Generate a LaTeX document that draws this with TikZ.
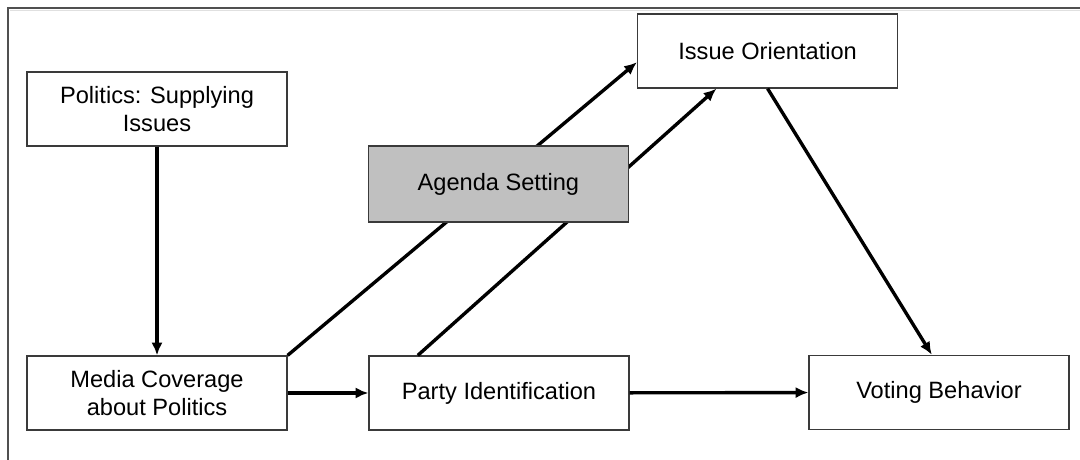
\documentclass[tikz,border=0pt]{standalone}
\usepackage{fontspec}
\setmainfont{Liberation Sans}
\usepackage{xcolor}
\usepackage{tikz}
\usetikzlibrary{arrows.meta}
\definecolor{framegray}{HTML}{505050}
\definecolor{boxline}{HTML}{3A3A3A}
\definecolor{agendagray}{HTML}{C0C0C0}

\begin{document}
\begin{tikzpicture}[
  font=\fontsize{16.8}{20}\selectfont,
  arr/.style={-{Latex[length=3.2mm, width=2.8mm]}, line width=2.4pt},
  box/.style={draw=boxline, line width=0.9pt, align=center, fill=white,
              minimum width=6.5cm, minimum height=1.85cm, inner sep=2pt},
]
\useasboundingbox (0,0) rectangle (27,11.5);
\draw[framegray, line width=1.4pt] (0.19,0) -- (0.19,11.31) -- (27,11.31);
\draw[black!12, line width=0.8pt] (0.25,11.24) -- (27,11.24);

\node[box] (pol) at (3.925,8.775) {Politics: Supplying\\Issues};
\node[box] (med) at (3.925,1.675) {Media Coverage\\about Politics};
\node[box] (pid) at (12.475,1.675) {Party Identification};
\node[box] (vot) at (23.475,1.69) {Voting Behavior};
\node[box] (iss) at (19.19,10.225) {Issue Orientation};

\draw[arr] (pol) -- (med);
\draw[arr] (med) -- (pid);
\draw[arr] (pid) -- (vot);
\draw[arr] (med.north east) -- ([yshift=-0.28cm]iss.west);
\draw[arr] ([xshift=-2.03cm]pid.north) -- ([xshift=-1.28cm]iss.south);
\draw[arr] (iss.south) -- ([xshift=-0.18cm]vot.north);

% drawn last so that it covers the two arrows
\node[box, fill=agendagray, minimum height=1.9cm] (age) at (12.46,6.9) {Agenda Setting};
\end{tikzpicture}
\end{document}
